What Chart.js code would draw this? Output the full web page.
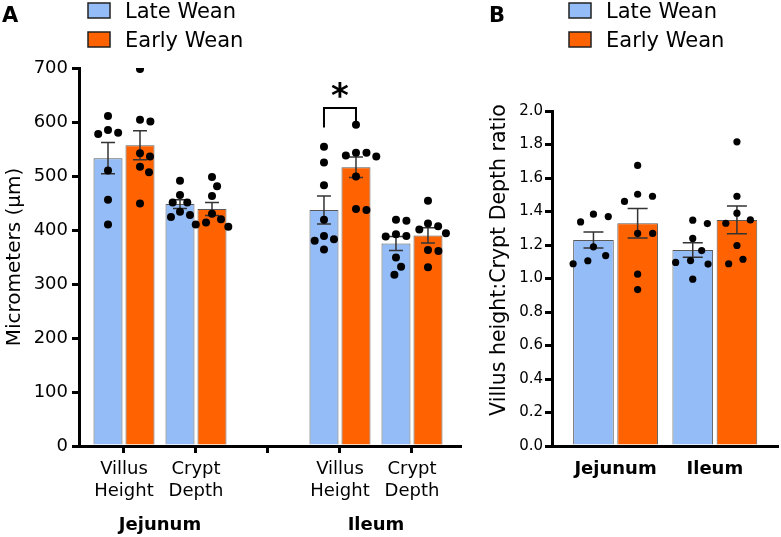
<!DOCTYPE html>
<html>
<head>
<meta charset="utf-8">
<script src="https://cdn.jsdelivr.net/npm/chart.js@4.4.1/dist/chart.umd.min.js"></script>
<style>
  body { margin: 0; background: #fff; }
  #wrap { position: relative; width: 781px; height: 537px; }
  canvas { position: absolute; top: 0; }
</style>
</head>
<body>
<div id="wrap">
  <canvas id="chart-a" width="470" height="537" style="left:0"></canvas>
  <canvas id="chart-b" width="311" height="537" style="left:470px"></canvas>
</div>
<script>
// ---- Panel A: villus height / crypt depth (µm) ----
var measureLabels = [["Villus", "Height"], ["Crypt", "Depth"], "", ["Villus", "Height"], ["Crypt", "Depth"]];
var regionLabels = ["Jejunum", "Ileum"];
var regionSlots = [[0, 1], [3, 4]];
var groupLabels = ["Late Wean", "Early Wean"];
var yTicksA = [0, 100, 200, 300, 400, 500, 600, 700];

var lateMean = [533, 448, null, 437, 375];
var lateSem = [29, 8, null, 26, 13];
var earlyMean = [557, 439, null, 516, 390];
var earlySem = [27, 12, null, 19, 14];

var latePoints = [
  [611, 585, 580, 578, 510, 456, 410],
  [491, 465, 451, 451, 434, 428, 424],
  [],
  [554, 525, 483, 419, 389, 383, 380, 364],
  [419, 417, 392, 389, 388, 349, 332, 317]
];
var earlyPoints = [
  [698, 604, 601, 542, 536, 517, 507, 449],
  [498, 481, 463, 430, 420, 414, 410, 406],
  [],
  [595, 543, 543, 538, 536, 499, 439, 437],
  [454, 412, 407, 401, 394, 363, 361, 331]
];

// ---- Panel B: villus height : crypt depth ratio ----
var ratioLabels = ["Jejunum", "Ileum"];
var yTicksB = [0, 0.2, 0.4, 0.6, 0.8, 1.0, 1.2, 1.4, 1.6, 1.8, 2.0];
var lateRatio = [1.23, 1.17];
var lateRatioSem = [0.048, 0.043];
var earlyRatio = [1.33, 1.35];
var earlyRatioSem = [0.088, 0.083];
var lateRatioPoints = [
  [1.384, 1.370, 1.338, 1.189, 1.137, 1.106, 1.088],
  [1.348, 1.328, 1.239, 1.167, 1.107, 1.096, 1.086, 0.996]
];
var earlyRatioPoints = [
  [1.675, 1.503, 1.491, 1.460, 1.269, 1.269, 1.026, 0.934],
  [1.816, 1.491, 1.390, 1.350, 1.330, 1.197, 1.115, 1.088]
];

var BLUE = '#94bdf7';
var ORANGE = '#ff6200';
var FONT = "'DejaVu Sans', sans-serif";

Chart.defaults.font.family = FONT;
Chart.defaults.color = '#000';

function barSet(label, means, sems, color) {
  return {
    type: 'bar',
    label: label,
    order: 2,
    data: means.map(function (v, i) { return { x: i, y: v, sem: sems[i] }; })
               .filter(function (p) { return p.y !== null; }),
    backgroundColor: color,
    borderColor: '#5a5a5a',
    borderWidth: 1
  };
}

function dotSet(label, points, radius) {
  var data = [];
  points.forEach(function (vals, i) {
    vals.forEach(function (v) { data.push({ x: i, y: v, cat: i }); });
  });
  return {
    type: 'scatter',
    label: label,
    order: 1,
    data: data,
    pointRadius: radius,
    pointHoverRadius: radius,
    backgroundColor: '#000',
    borderWidth: 0
  };
}

// simple beeswarm: spread dots sideways around their bar so they don't overlap
function swarm(chart, dotIdx, barIdx, gap) {
  var xs = chart.scales.x, ys = chart.scales.y;
  var bars = chart.getDatasetMeta(barIdx).data;
  var barData = chart.data.datasets[barIdx].data;
  var pts = chart.data.datasets[dotIdx].data;
  barData.forEach(function (b, k) {
    var cx = bars[k].x;
    var placed = [];
    pts.filter(function (p) { return p.cat === b.x; }).forEach(function (p) {
      var py = ys.getPixelForValue(p.y);
      var cands = [0];
      placed.forEach(function (q) {
        var dy = py - q.py;
        if (Math.abs(dy) < gap) {
          var dx = Math.sqrt(gap * gap - dy * dy);
          cands.push(q.dx + dx, q.dx - dx);
        }
      });
      cands.sort(function (a, c) { return Math.abs(a) - Math.abs(c); });
      var dx = cands.find(function (c) {
        return placed.every(function (q) { return Math.hypot(c - q.dx, py - q.py) >= gap - 0.01; });
      });
      placed.push({ dx: dx, py: py });
      p.x = xs.getValueForPixel(cx + dx);
    });
  });
}

var errorBars = {
  id: 'errorBars',
  afterDatasetDraw: function (chart, args, opts) {
    var ds = chart.data.datasets[args.index];
    if (ds.type !== 'bar') return;
    var ctx = chart.ctx, ys = chart.scales.y;
    ctx.save();
    ctx.strokeStyle = '#333';
    ctx.lineWidth = 1.5;
    args.meta.data.forEach(function (bar, k) {
      var d = ds.data[k];
      var top = ys.getPixelForValue(d.y + d.sem);
      var bot = ys.getPixelForValue(d.y - d.sem);
      ctx.beginPath();
      ctx.moveTo(bar.x, top); ctx.lineTo(bar.x, bot);
      ctx.moveTo(bar.x - opts.cap, top); ctx.lineTo(bar.x + opts.cap, top);
      ctx.moveTo(bar.x - opts.cap, bot); ctx.lineTo(bar.x + opts.cap, bot);
      ctx.stroke();
    });
    ctx.restore();
  }
};

var panelDeco = {
  id: 'panelDeco',
  afterDraw: function (chart, args, opts) {
    var ctx = chart.ctx;
    ctx.save();
    ctx.fillStyle = '#000';
    ctx.font = 'bold 21px ' + FONT;
    ctx.textBaseline = 'alphabetic';
    ctx.textAlign = 'left';
    ctx.fillText(opts.letter, opts.letterX, 22);
    // legend
    var colors = [BLUE, ORANGE];
    ctx.font = '21px ' + FONT;
    groupLabels.forEach(function (g, i) {
      var y = i === 0 ? 3 : 32;
      ctx.fillStyle = colors[i];
      ctx.fillRect(opts.legendX, y, 22, 15);
      ctx.strokeStyle = '#222';
      ctx.lineWidth = 1.5;
      ctx.strokeRect(opts.legendX, y, 22, 15);
      ctx.fillStyle = '#000';
      ctx.fillText(g, opts.legendX + 37, y + 15);
    });
    // rotated y title drawn by hand (panel B)
    if (opts.yTitle) {
      ctx.save();
      ctx.translate(opts.yTitle.x, opts.yTitle.y);
      ctx.rotate(-Math.PI / 2);
      ctx.font = opts.yTitle.size + 'px ' + FONT;
      ctx.textAlign = 'center';
      ctx.textBaseline = 'middle';
      ctx.fillText(opts.yTitle.text, 0, 0);
      ctx.restore();
    }
    // region labels under grouped categories
    if (opts.regions) {
      var xs = chart.scales.x;
      ctx.font = 'bold 18px ' + FONT;
      ctx.textAlign = 'center';
      ctx.textBaseline = 'middle';
      regionLabels.forEach(function (r, i) {
        var s = regionSlots[i];
        ctx.fillText(r, xs.getPixelForValue((s[0] + s[1]) / 2), 525);
      });
    }
    // significance bracket
    if (opts.sig) {
      var ys = chart.scales.y;
      var xl = chart.getDatasetMeta(0).data.find(function (e, k) { return chart.data.datasets[0].data[k].x === opts.sig.slot; }).x;
      var xr = chart.getDatasetMeta(1).data.find(function (e, k) { return chart.data.datasets[1].data[k].x === opts.sig.slot; }).x;
      var yt = ys.getPixelForValue(opts.sig.top);
      ctx.strokeStyle = '#000';
      ctx.lineWidth = 2;
      ctx.beginPath();
      ctx.moveTo(xl, ys.getPixelForValue(opts.sig.legs[0]));
      ctx.lineTo(xl, yt); ctx.lineTo(xr, yt);
      ctx.lineTo(xr, ys.getPixelForValue(opts.sig.legs[1]));
      ctx.stroke();
      ctx.font = 'bold 34px ' + FONT;
      ctx.textAlign = 'center';
      ctx.textBaseline = 'alphabetic';
      ctx.fillText('*', (xl + xr) / 2, yt - 1);
    }
    ctx.restore();
  }
};

function axisStyle() {
  return {
    grid: { drawOnChartArea: false, offset: false, tickLength: 7, lineWidth: 3, color: '#000' },
    border: { color: '#000', width: 3 }
  };
}

// ---- Chart A ----
var xA = axisStyle(), yA = axisStyle();
var chartA = new Chart(document.getElementById('chart-a'), {
  type: 'bar',
  data: {
    datasets: [
      barSet(groupLabels[0], lateMean, lateSem, BLUE),
      barSet(groupLabels[1], earlyMean, earlySem, ORANGE),
      dotSet(groupLabels[0], latePoints, 4),
      dotSet(groupLabels[1], earlyPoints, 4)
    ]
  },
  options: {
    responsive: false,
    animation: false,
    barPercentage: 0.906,
    categoryPercentage: 0.889,
    layout: { padding: { top: 68, right: 10, left: 0, bottom: 0 } },
    plugins: {
      legend: { display: false },
      tooltip: { enabled: false },
      errorBars: { cap: 7 },
      panelDeco: { letter: 'A', letterX: 2, legendX: 88, regions: true, yTitle: null,
                   sig: { slot: 3, top: 626, legs: [590, 600] } }
    },
    scales: {
      x: {
        type: 'linear', min: -0.625, max: 4.667, offset: false,
        afterFit: function (s) { s.height = 91; },
        afterBuildTicks: function (s) { s.ticks = measureLabels.map(function (l, i) { return { value: i }; }); },
        ticks: { callback: function (v) { return measureLabels[v]; }, font: { size: 18, lineHeight: 1.25 },
                 padding: 5, maxRotation: 0, autoSkip: false },
        grid: xA.grid, border: xA.border
      },
      y: {
        min: 0, max: 700,
        afterFit: function (s) { s.width = 79; },
        afterBuildTicks: function (s) { s.ticks = yTicksA.map(function (v) { return { value: v }; }); },
        ticks: { font: { size: 18 }, padding: 4 },
        grid: yA.grid, border: yA.border,
        title: { display: true, text: 'Micrometers (µm)', font: { size: 20 }, padding: { top: 3, bottom: 0 } }
      }
    }
  },
  plugins: [errorBars, panelDeco]
});
swarm(chartA, 2, 0, 10.5);
swarm(chartA, 3, 1, 10.5);
chartA.update('none');

// ---- Chart B ----
var xB = axisStyle(), yB = axisStyle();
xB.grid.drawTicks = false;
var chartB = new Chart(document.getElementById('chart-b'), {
  type: 'bar',
  data: {
    datasets: [
      barSet(groupLabels[0], lateRatio, lateRatioSem, BLUE),
      barSet(groupLabels[1], earlyRatio, earlyRatioSem, ORANGE),
      dotSet(groupLabels[0], lateRatioPoints, 3.6),
      dotSet(groupLabels[1], earlyRatioPoints, 3.6)
    ]
  },
  options: {
    responsive: false,
    animation: false,
    barPercentage: 0.92,
    categoryPercentage: 0.89,
    layout: { padding: { top: 111, right: 2, left: 0, bottom: 0 } },
    plugins: {
      legend: { display: false },
      tooltip: { enabled: false },
      errorBars: { cap: 10 },
      panelDeco: { letter: 'B', letterX: 19, legendX: 99, regions: false, sig: null,
                   yTitle: { text: 'Villus height:Crypt Depth ratio', x: 30, y: 260, size: 20.5 } }
    },
    scales: {
      x: {
        type: 'linear', min: -0.64, max: 1.63, offset: false,
        afterFit: function (s) { s.height = 91; },
        afterBuildTicks: function (s) { s.ticks = ratioLabels.map(function (l, i) { return { value: i }; }); },
        ticks: { callback: function (v) { return ratioLabels[v]; }, font: { size: 18, weight: 'bold' },
                 padding: 13, maxRotation: 0, autoSkip: false },
        grid: xB.grid, border: xB.border
      },
      y: {
        min: 0, max: 2,
        afterFit: function (s) { s.width = 82; },
        afterBuildTicks: function (s) { s.ticks = yTicksB.map(function (v) { return { value: v }; }); },
        ticks: { font: { size: 15 }, padding: 2, callback: function (v) { return v.toFixed(1); } },
        grid: yB.grid, border: yB.border
      }
    }
  },
  plugins: [errorBars, panelDeco]
});
swarm(chartB, 2, 0, 15);
swarm(chartB, 3, 1, 15);
chartB.update('none');
</script>
</body>
</html>
